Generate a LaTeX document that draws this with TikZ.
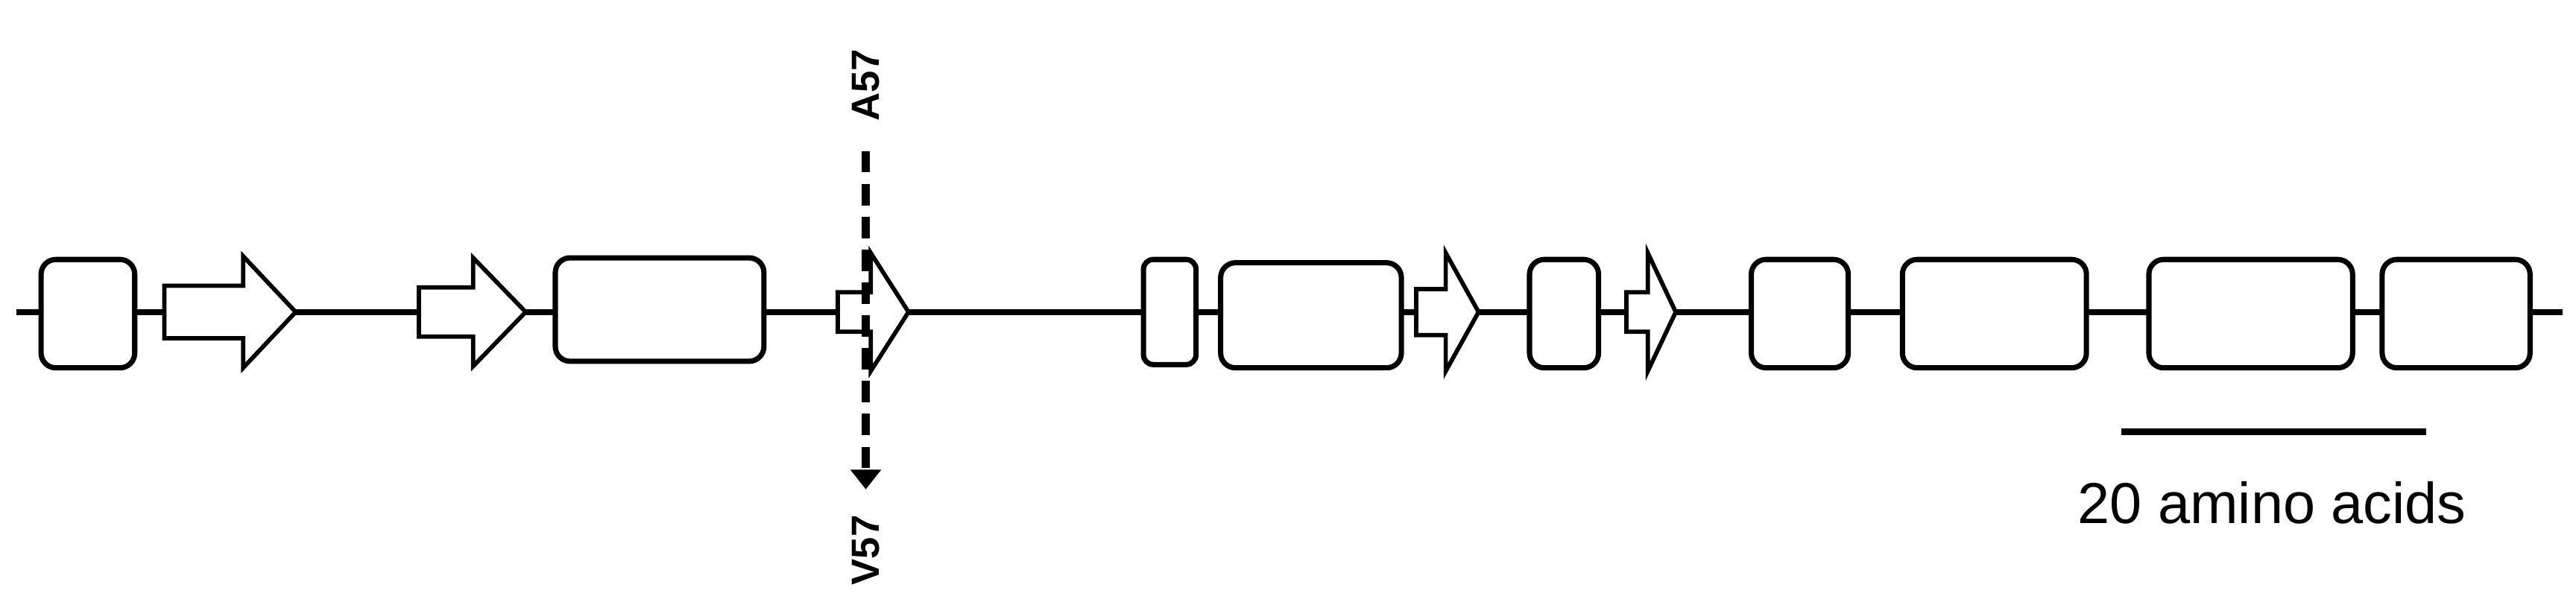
\documentclass[tikz,border=0pt]{standalone}
\usepackage{fontspec}
\setmainfont{Liberation Sans}
\usetikzlibrary{arrows.meta}
\begin{document}
\begin{tikzpicture}[x=0.5mm,y=-0.5mm,
  dom/.style={draw=black,fill=white,line width=1.6mm,rounded corners=4.5mm},
  arr/.style={draw=black,fill=white,line width=1.3mm,line join=miter},
  bb/.style={line width=1.9mm}]
\useasboundingbox (0,0) rectangle (1568,368);
\draw[bb] (10,190) -- (1560,190);
\newcommand{\garrow}[5]{\path[arr] (#1,{190-#4}) -- (#2,{190-#4}) -- (#2,{190-#5}) -- (#3,190) -- (#2,{190+#5}) -- (#2,{190+#4}) -- (#1,{190+#4}) -- cycle;}
\path[dom] (25,158) rectangle (82,224);
\garrow{100}{148}{180}{16}{34}
\garrow{255}{288}{320}{15}{33}
\path[dom] (338,157) rectangle (465,220);
\garrow{510}{530}{553}{12}{36}
\path[dom,rounded corners=3mm] (696,158) rectangle (728,222);
\path[dom] (743,160) rectangle (853,224);
\garrow{862}{880}{900}{14}{36}
\path[dom] (931,158) rectangle (973,224);
\garrow{990}{1003}{1020}{12}{36}
\path[dom] (1066,158) rectangle (1125,224);
\path[dom] (1158,158) rectangle (1270,224);
\path[dom] (1308,158) rectangle (1432,224);
\path[dom] (1450,158) rectangle (1540,224);
\coordinate (top) at (527,92);
\coordinate (bot) at (527,298);
\draw[line width=2.6mm,dash pattern=on 6.5mm off 3.5mm,-{Triangle[width=9mm,length=6mm]}] (top) -- (bot);
\node[rotate=90,font=\bfseries\fontsize{34}{40}\selectfont,inner sep=0] (a57) at (527,52) {A57};
\node[rotate=90,font=\bfseries\fontsize{34}{40}\selectfont,inner sep=0] (v57) at (527,335) {V57};
\coordinate (s1) at (1291,263);
\coordinate (s2) at (1477,263);
\draw[line width=1.9mm] (s1) -- (s2);
\node[font=\fontsize{50}{60}\selectfont,inner sep=0] (lbl) at (1383,306) {20 amino acids};
\end{tikzpicture}
\end{document}
